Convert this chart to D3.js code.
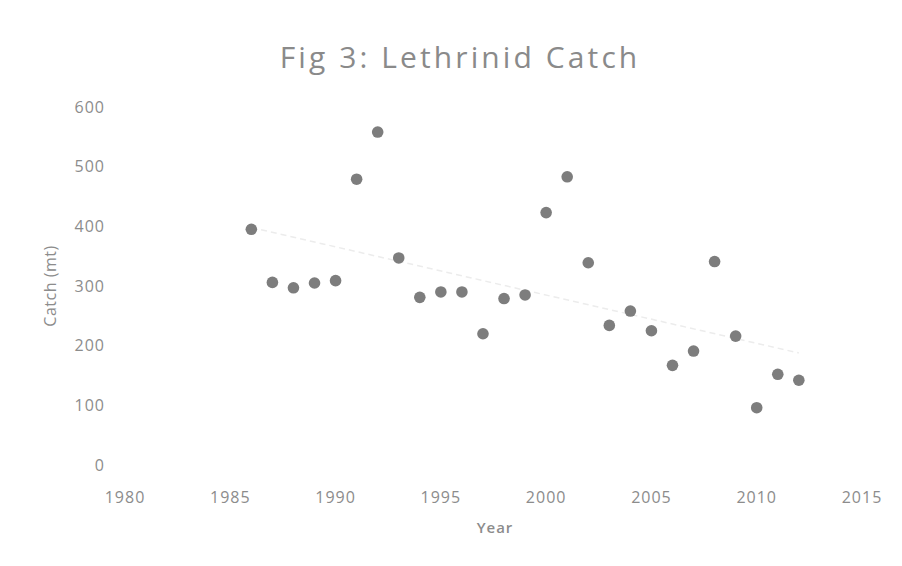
<!DOCTYPE html>
<html>
<head>
<meta charset="utf-8">
<script src="https://cdn.jsdelivr.net/npm/d3@7"></script>
<style>
  body { margin: 0; background: #fff; }
  text { font-family: "Open Sans", sans-serif; fill: #8c8c8c; }
</style>
</head>
<body>
<svg id="chart"></svg>
<script>
const years = [1986, 1987, 1988, 1989, 1990, 1991, 1992, 1993, 1994, 1995, 1996, 1997, 1998, 1999,
  2000, 2001, 2002, 2003, 2004, 2005, 2006, 2007, 2008, 2009, 2010, 2011, 2012];
const catchMt = [395, 306, 297, 305, 309, 479, 558, 347, 281, 290, 290, 220, 279, 285,
  423, 483, 339, 234, 258, 225, 167, 191, 341, 216, 96, 152, 142];
const xTicks = [1980, 1985, 1990, 1995, 2000, 2005, 2010, 2015];
const yTicks = [0, 100, 200, 300, 400, 500, 600];

const width = 902, height = 566;
const margin = { top: 107, right: 40, bottom: 101, left: 125 };

const svg = d3.select("#chart").attr("width", width).attr("height", height);

const x = d3.scaleLinear().domain([1980, 2015]).range([margin.left, width - margin.right]);
const y = d3.scaleLinear().domain([0, 600]).range([height - margin.bottom, margin.top]);

// title
svg.append("text")
  .attr("x", 460).attr("y", 68)
  .attr("text-anchor", "middle")
  .style("font-size", "30px")
  .style("letter-spacing", "3.1px")
  .style("fill", "#8a8a8a")
  .text("Fig 3: Lethrinid Catch");

// linear trendline (least squares), very faint
const n = years.length;
const mx = d3.mean(years), my = d3.mean(catchMt);
const slope = d3.sum(years, (d, i) => (d - mx) * (catchMt[i] - my)) / d3.sum(years, d => (d - mx) ** 2);
const icpt = my - slope * mx;
svg.append("line")
  .attr("x1", x(years[0])).attr("y1", y(icpt + slope * years[0]))
  .attr("x2", x(years[n - 1])).attr("y2", y(icpt + slope * years[n - 1]))
  .attr("stroke", "#ececec")
  .attr("stroke-width", 1.5)
  .attr("stroke-dasharray", "6,4");

// y axis labels
svg.append("g")
  .selectAll("text")
  .data(yTicks)
  .enter()
  .append("text")
  .attr("x", margin.left - 20)
  .attr("y", d => y(d))
  .attr("dy", "0.35em")
  .attr("text-anchor", "end")
  .style("font-size", "16px")
  .style("letter-spacing", "1px")
  .text(d => d);

// x axis labels
svg.append("g")
  .selectAll("text")
  .data(xTicks)
  .enter()
  .append("text")
  .attr("x", d => x(d))
  .attr("y", height - margin.bottom + 32)
  .attr("dy", "0.35em")
  .attr("text-anchor", "middle")
  .style("font-size", "16px")
  .style("letter-spacing", "1px")
  .text(d => d);

// axis titles
svg.append("text")
  .attr("x", 495).attr("y", 533)
  .attr("text-anchor", "middle")
  .style("font-size", "15px")
  .style("font-weight", "600")
  .style("letter-spacing", "1px")
  .text("Year");

svg.append("text")
  .attr("transform", "rotate(-90)")
  .attr("x", -286).attr("y", 56)
  .attr("text-anchor", "middle")
  .style("font-size", "16px")
  .style("letter-spacing", "0.5px")
  .text("Catch (mt)");

// points
svg.append("g")
  .selectAll("circle")
  .data(years)
  .enter()
  .append("circle")
  .attr("cx", d => x(d))
  .attr("cy", (d, i) => y(catchMt[i]))
  .attr("r", 5.8)
  .attr("fill", "#7d7d7d");
</script>
</body>
</html>
